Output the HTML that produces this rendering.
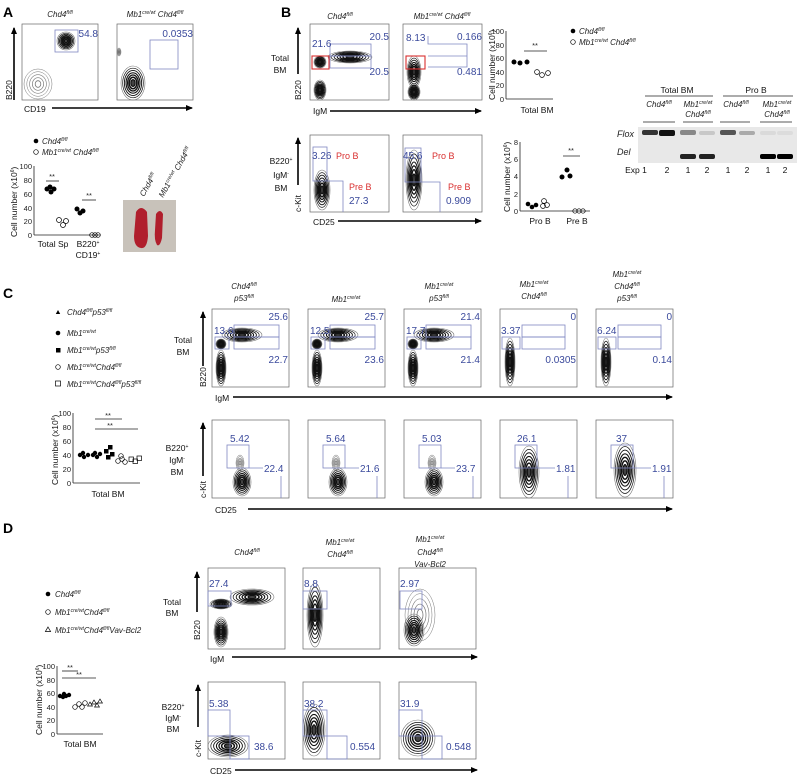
<!DOCTYPE html>
<html><head><meta charset="utf-8"><style>
html,body{margin:0;padding:0;background:#fff}
svg{display:block;font-family:"Liberation Sans",sans-serif}
.n{fill:#3b4a9c;font-size:10px}
.r{fill:#d93030;font-size:9px}
.l{font-size:8.5px;fill:#111}
.i{font-style:italic;font-size:8px;fill:#222}
.s{font-size:5px}
.g{fill:none;stroke:#7f87c2;stroke-width:0.8}
.f{fill:none;stroke:#666;stroke-width:0.7}
.ax{stroke:#000;stroke-width:1.6;fill:none}
.sa{stroke:#222;stroke-width:0.8;fill:none}
.t{font-size:7.5px;fill:#222}
.P{font-size:14px;font-weight:bold;fill:#000}
</style></head><body>
<svg width="800" height="776" viewBox="0 0 800 776" xmlns="http://www.w3.org/2000/svg">
<defs>
<marker id="ar" markerWidth="8" markerHeight="8" refX="6" refY="3" orient="auto" markerUnits="userSpaceOnUse"><path d="M0,0 L7,3 L0,6 Z" fill="#000"/></marker>
<g id="c" fill="none" stroke="#111">
<ellipse rx="1" ry="1" stroke="#777" stroke-width="0.6" vector-effect="non-scaling-stroke"/>
<ellipse rx="0.86" ry="0.87" stroke-width="0.7" vector-effect="non-scaling-stroke"/>
<ellipse rx="0.72" ry="0.74" stroke-width="0.9" vector-effect="non-scaling-stroke"/>
<ellipse rx="0.58" ry="0.6" stroke-width="1.1" vector-effect="non-scaling-stroke"/>
<ellipse rx="0.45" ry="0.47" stroke-width="1.3" vector-effect="non-scaling-stroke"/>
<ellipse rx="0.32" ry="0.34" stroke-width="1.5" vector-effect="non-scaling-stroke"/>
<ellipse rx="0.18" ry="0.2" stroke-width="1.2" vector-effect="non-scaling-stroke" fill="#444"/>
</g>
<g id="cl" fill="none" stroke="#777">
<ellipse rx="1" ry="1" stroke-width="0.5" vector-effect="non-scaling-stroke"/>
<ellipse rx="0.8" ry="0.82" stroke-width="0.5" vector-effect="non-scaling-stroke"/>
<ellipse rx="0.6" ry="0.62" stroke-width="0.6" vector-effect="non-scaling-stroke"/>
<ellipse rx="0.4" ry="0.42" stroke-width="0.7" vector-effect="non-scaling-stroke"/>
<ellipse rx="0.2" ry="0.22" stroke-width="0.8" vector-effect="non-scaling-stroke"/>
</g>
</defs>

<!-- ================= A ================= -->
<text x="3" y="17" class="P">A</text>
<text x="60" y="17" class="i" text-anchor="middle">Chd4<tspan class="s" dy="-3">fl/fl</tspan></text>
<text x="155" y="17" class="i" text-anchor="middle">Mb1<tspan class="s" dy="-3">cre/wt</tspan><tspan dy="3"> Chd4</tspan><tspan class="s" dy="-3">fl/fl</tspan></text>
<rect x="22" y="24" width="76" height="76" class="f"/>
<rect x="117" y="24" width="76" height="76" class="f"/>
<rect x="55" y="30" width="23" height="22" class="g"/>
<rect x="150" y="40" width="28" height="29" class="g"/>
<text x="98" y="37" class="n" text-anchor="end">54.8</text>
<text x="193" y="37" class="n" text-anchor="end">0.0353</text>
<use href="#c" transform="translate(66,41) scale(9,9)"/>
<use href="#cl" transform="translate(38,84) scale(14,15)"/>
<use href="#c" transform="translate(133,83) scale(12,17)"/>
<use href="#cl" transform="translate(119,52) scale(2,4)"/>
<line x1="14" y1="100" x2="14" y2="28" class="ax" marker-end="url(#ar)"/>
<text transform="translate(12,100) rotate(-90)" class="l">B220</text>
<text x="24" y="112" class="l">CD19</text>
<line x1="52" y1="108" x2="192" y2="108" class="ax" marker-end="url(#ar)"/>

<circle cx="36" cy="141" r="2.3" fill="#000"/>
<text x="42" y="144" class="i">Chd4<tspan class="s" dy="-3">fl/fl</tspan></text>
<circle cx="36" cy="152" r="2.3" fill="none" stroke="#000" stroke-width="0.7"/>
<text x="42" y="155" class="i">Mb1<tspan class="s" dy="-3">cre/wt</tspan><tspan dy="3"> Chd4</tspan><tspan class="s" dy="-3">fl/fl</tspan></text>
<text transform="translate(17,237) rotate(-90)" class="l">Cell number (x10<tspan class="s" dy="-3">6</tspan><tspan dy="3">)</tspan></text>
<line x1="34" y1="166" x2="34" y2="235" class="sa"/>
<line x1="34" y1="235" x2="100" y2="235" class="sa"/>
<g class="t" text-anchor="end">
<text x="32" y="169">100</text><text x="32" y="183">80</text><text x="32" y="197">60</text><text x="32" y="211">40</text><text x="32" y="224">20</text><text x="32" y="238">0</text></g>
<text x="53" y="247" class="l" text-anchor="middle">Total Sp</text>
<text x="88" y="247" class="l" text-anchor="middle">B220<tspan class="s" dy="-3">+</tspan></text>
<text x="88" y="258" class="l" text-anchor="middle">CD19<tspan class="s" dy="-3">+</tspan></text>
<g fill="#000"><circle cx="47" cy="189" r="2.5"/><circle cx="51" cy="192" r="2.5"/><circle cx="54" cy="189" r="2.5"/><circle cx="50" cy="187" r="2.5"/>
<circle cx="77" cy="209" r="2.5"/><circle cx="80" cy="213" r="2.5"/><circle cx="83" cy="211" r="2.5"/></g>
<g fill="none" stroke="#000" stroke-width="0.7"><circle cx="59" cy="220" r="2.5"/><circle cx="63" cy="225" r="2.5"/><circle cx="66" cy="221" r="2.5"/>
<circle cx="92" cy="235" r="2.3"/><circle cx="95" cy="235" r="2.3"/><circle cx="98" cy="235" r="2.3"/></g>
<line x1="46" y1="181" x2="59" y2="181" class="sa"/><text x="52" y="179" class="t" text-anchor="middle">**</text>
<line x1="82" y1="200" x2="96" y2="200" class="sa"/><text x="89" y="198" class="t" text-anchor="middle">**</text>
<rect x="123" y="200" width="53" height="52" fill="#c8c2ba"/>
<path d="M136,212 Q141,204 147,212 L148,236 Q147,249 141,248 Q134,247 134,236 Z" fill="#b01e2c"/>
<path d="M156,214 Q160,208 163,214 L162,238 Q160,247 157,245 Q154,240 155,230 Z" fill="#b01e2c"/>
<text transform="translate(144,197) rotate(-60)" class="i">Chd4<tspan class="s" dy="-3">fl/fl</tspan></text>
<text transform="translate(163,198) rotate(-60)" class="i">Mb1<tspan class="s" dy="-3">cre/wt</tspan><tspan dy="3"> Chd4</tspan><tspan class="s" dy="-3">fl/fl</tspan></text>

<!-- ================= B ================= -->
<text x="281" y="17" class="P">B</text>
<text x="340" y="19" class="i" text-anchor="middle">Chd4<tspan class="s" dy="-3">fl/fl</tspan></text>
<text x="442" y="19" class="i" text-anchor="middle">Mb1<tspan class="s" dy="-3">cre/wt</tspan><tspan dy="3"> Chd4</tspan><tspan class="s" dy="-3">fl/fl</tspan></text>
<text x="280" y="61" class="l" text-anchor="middle">Total</text>
<text x="280" y="73" class="l" text-anchor="middle">BM</text>
<line x1="298" y1="74" x2="298" y2="28" class="ax" marker-end="url(#ar)"/>
<text transform="translate(301,100) rotate(-90)" class="l">B220</text>
<rect x="310" y="24" width="79" height="76" class="f"/>
<rect x="403" y="24" width="79" height="76" class="f"/>
<use href="#c" transform="translate(350,57) scale(22,6)"/>
<use href="#c" transform="translate(320,62) scale(6,6)"/>
<use href="#c" transform="translate(320,90) scale(6,10)"/>
<use href="#c" transform="translate(414,72) scale(7,16)"/>
<use href="#c" transform="translate(414,92) scale(6,8)"/>
<rect x="330" y="44" width="41" height="12" class="g"/><rect x="330" y="56" width="41" height="12" class="g"/>
<rect x="312" y="56" width="17" height="13" fill="none" stroke="#d93030" stroke-width="1.1"/>
<text x="312" y="47" class="n">21.6</text>
<text x="389" y="40" class="n" text-anchor="end">20.5</text>
<text x="389" y="75" class="n" text-anchor="end">20.5</text>
<path d="M428,36 V44 H467 V67 H428" class="g"/><line x1="428" y1="56" x2="467" y2="56" class="g"/>
<rect x="406" y="56" width="19" height="13" fill="none" stroke="#d93030" stroke-width="1.1"/>
<text x="406" y="41" class="n">8.13</text>
<text x="482" y="40" class="n" text-anchor="end">0.166</text>
<text x="482" y="75" class="n" text-anchor="end">0.481</text>
<text x="313" y="114" class="l">IgM</text>
<line x1="330" y1="111" x2="481" y2="111" class="ax" marker-end="url(#ar)"/>

<text x="281" y="164" class="l" text-anchor="middle">B220<tspan class="s" dy="-3">+</tspan></text>
<text x="281" y="178" class="l" text-anchor="middle">IgM<tspan class="s" dy="-3">-</tspan></text>
<text x="281" y="191" class="l" text-anchor="middle">BM</text>
<line x1="298" y1="185" x2="298" y2="138" class="ax" marker-end="url(#ar)"/>
<text transform="translate(301,212) rotate(-90)" class="l">c-Kit</text>
<rect x="310" y="135" width="79" height="77" class="f"/>
<rect x="403" y="135" width="79" height="77" class="f"/>
<use href="#c" transform="translate(322,190) scale(8,20)"/>
<use href="#c" transform="translate(414,180) scale(8,30)"/>
<rect x="313" y="147" width="14" height="34" class="g"/>
<path d="M327,181 H343 V212" class="g"/>
<text x="312" y="159" class="n">3.26</text><text x="336" y="159" class="r">Pro B</text>
<text x="349" y="190" class="r">Pre B</text><text x="349" y="204" class="n">27.3</text>
<rect x="405" y="148" width="16" height="34" class="g"/>
<path d="M421,182 H440 V212" class="g"/>
<text x="403" y="159" class="n">45.6</text><text x="432" y="159" class="r">Pro B</text>
<text x="448" y="190" class="r">Pre B</text><text x="446" y="204" class="n">0.909</text>
<text x="313" y="225" class="l">CD25</text>
<line x1="338" y1="221" x2="481" y2="221" class="ax" marker-end="url(#ar)"/>

<!-- B scatter top -->
<text transform="translate(495,100) rotate(-90)" class="l">Cell number (x10<tspan class="s" dy="-3">6</tspan><tspan dy="3">)</tspan></text>
<line x1="506" y1="31" x2="506" y2="99" class="sa"/><line x1="506" y1="99" x2="553" y2="99" class="sa"/>
<g class="t" text-anchor="end"><text x="504" y="34">100</text><text x="504" y="48">80</text><text x="504" y="61">60</text><text x="504" y="75">40</text><text x="504" y="88">20</text><text x="504" y="102">0</text></g>
<g fill="#000"><circle cx="514" cy="62" r="2.5"/><circle cx="520" cy="63" r="2.5"/><circle cx="527" cy="62" r="2.5"/></g>
<g fill="none" stroke="#000" stroke-width="0.7"><circle cx="537" cy="72" r="2.4"/><circle cx="542" cy="75" r="2.4"/><circle cx="548" cy="73" r="2.4"/></g>
<line x1="524" y1="51" x2="547" y2="51" class="sa"/><text x="535" y="48" class="t" text-anchor="middle">**</text>
<text x="537" y="113" class="l" text-anchor="middle">Total BM</text>
<circle cx="573" cy="31" r="2.3" fill="#000"/><text x="579" y="34" class="i">Chd4<tspan class="s" dy="-3">fl/fl</tspan></text>
<circle cx="573" cy="42" r="2.3" fill="none" stroke="#000" stroke-width="0.7"/><text x="579" y="45" class="i">Mb1<tspan class="s" dy="-3">cre/wt</tspan><tspan dy="3"> Chd4</tspan><tspan class="s" dy="-3">fl/fl</tspan></text>
<!-- B scatter bottom -->
<text transform="translate(510,212) rotate(-90)" class="l">Cell number (x10<tspan class="s" dy="-3">6</tspan><tspan dy="3">)</tspan></text>
<line x1="520" y1="142" x2="520" y2="211" class="sa"/><line x1="520" y1="211" x2="590" y2="211" class="sa"/>
<g class="t" text-anchor="end"><text x="518" y="145">8</text><text x="518" y="162">6</text><text x="518" y="179">4</text><text x="518" y="197">2</text><text x="518" y="214">0</text></g>
<g fill="#000"><circle cx="528" cy="204" r="2.3"/><circle cx="532" cy="207" r="2.3"/><circle cx="536" cy="205" r="2.3"/>
<circle cx="562" cy="177" r="2.5"/><circle cx="567" cy="170" r="2.5"/><circle cx="570" cy="176" r="2.5"/></g>
<g fill="none" stroke="#000" stroke-width="0.7"><circle cx="544" cy="201" r="2.4"/><circle cx="547" cy="205" r="2.4"/><circle cx="543" cy="206" r="2.4"/>
<circle cx="575" cy="211" r="2.2"/><circle cx="579" cy="211" r="2.2"/><circle cx="583" cy="211" r="2.2"/></g>
<line x1="563" y1="156" x2="580" y2="156" class="sa"/><text x="571" y="153" class="t" text-anchor="middle">**</text>
<text x="540" y="224" class="l" text-anchor="middle">Pro B</text>
<text x="577" y="224" class="l" text-anchor="middle">Pre B</text>

<!-- Gel -->
<text x="677" y="93" class="l" text-anchor="middle">Total BM</text>
<line x1="645" y1="96" x2="713" y2="96" class="sa"/>
<text x="756" y="93" class="l" text-anchor="middle">Pro B</text>
<line x1="723" y1="96" x2="793" y2="96" class="sa"/>
<text x="659" y="107" class="i" text-anchor="middle">Chd4<tspan class="s" dy="-3">fl/fl</tspan></text>
<text x="698" y="107" class="i" text-anchor="middle">Mb1<tspan class="s" dy="-3">cre/wt</tspan></text>
<text x="698" y="117" class="i" text-anchor="middle">Chd4<tspan class="s" dy="-3">fl/fl</tspan></text>
<text x="736" y="107" class="i" text-anchor="middle">Chd4<tspan class="s" dy="-3">fl/fl</tspan></text>
<text x="777" y="107" class="i" text-anchor="middle">Mb1<tspan class="s" dy="-3">cre/wt</tspan></text>
<text x="777" y="117" class="i" text-anchor="middle">Chd4<tspan class="s" dy="-3">fl/fl</tspan></text>
<g class="sa"><line x1="643" y1="122" x2="675" y2="122"/><line x1="683" y1="122" x2="713" y2="122"/><line x1="720" y1="122" x2="750" y2="122"/><line x1="760" y1="122" x2="792" y2="122"/></g>
<rect x="638" y="127" width="159" height="36" fill="#e8e8e8"/>
<text x="617" y="137" class="i" style="font-size:9px">Flox</text>
<text x="617" y="155" class="i" style="font-size:9px">Del</text>
<g>
<rect x="642" y="130" width="16" height="5" rx="2" fill="#333"/>
<rect x="659" y="130" width="16" height="6" rx="2" fill="#111"/>
<rect x="680" y="130" width="16" height="5" rx="2" fill="#888"/>
<rect x="699" y="131" width="16" height="4" rx="2" fill="#c8c8c8"/>
<rect x="720" y="130" width="16" height="5" rx="2" fill="#555"/>
<rect x="739" y="131" width="16" height="4" rx="2" fill="#aaa"/>
<rect x="760" y="131" width="16" height="4" rx="2" fill="#dadada"/>
<rect x="777" y="131" width="16" height="4" rx="2" fill="#dcdcdc"/>
<rect x="680" y="154" width="16" height="5" rx="2" fill="#222"/>
<rect x="699" y="154" width="16" height="5" rx="2" fill="#222"/>
<rect x="760" y="154" width="16" height="5" rx="2" fill="#000"/>
<rect x="777" y="154" width="16" height="5" rx="2" fill="#000"/>
</g>
<g class="l" text-anchor="middle"><text x="636" y="173">Exp 1</text><text x="667" y="173">2</text><text x="688" y="173">1</text><text x="707" y="173">2</text><text x="728" y="173">1</text><text x="747" y="173">2</text><text x="768" y="173">1</text><text x="785" y="173">2</text></g>

<!-- ================= C ================= -->
<text x="3" y="298" class="P">C</text>
<path d="M58,310 l2.2,4 h-4.4 z" fill="#000"/><text x="67" y="315" class="i">Chd4<tspan class="s" dy="-3">fl/fl</tspan><tspan dy="3">p53</tspan><tspan class="s" dy="-3">fl/fl</tspan></text>
<circle cx="58" cy="333" r="2.3" fill="#000"/><text x="67" y="336" class="i">Mb1<tspan class="s" dy="-3">cre/wt</tspan></text>
<rect x="56" y="348" width="4.5" height="4.5" fill="#000"/><text x="67" y="353" class="i">Mb1<tspan class="s" dy="-3">cre/wt</tspan><tspan dy="3">p53</tspan><tspan class="s" dy="-3">fl/fl</tspan></text>
<circle cx="58" cy="367" r="2.3" fill="none" stroke="#000" stroke-width="0.7"/><text x="67" y="370" class="i">Mb1<tspan class="s" dy="-3">cre/wt</tspan><tspan dy="3">Chd4</tspan><tspan class="s" dy="-3">fl/fl</tspan></text>
<rect x="55.5" y="381" width="5" height="5" fill="none" stroke="#000" stroke-width="0.7"/><text x="67" y="387" class="i">Mb1<tspan class="s" dy="-3">cre/wt</tspan><tspan dy="3">Chd4</tspan><tspan class="s" dy="-3">fl/fl</tspan><tspan dy="3">p53</tspan><tspan class="s" dy="-3">fl/fl</tspan></text>
<text transform="translate(58,485) rotate(-90)" class="l">Cell number (x10<tspan class="s" dy="-3">6</tspan><tspan dy="3">)</tspan></text>
<line x1="73" y1="413" x2="73" y2="483" class="sa"/><line x1="73" y1="483" x2="140" y2="483" class="sa"/>
<g class="t" text-anchor="end"><text x="71" y="416">100</text><text x="71" y="430">80</text><text x="71" y="444">60</text><text x="71" y="458">40</text><text x="71" y="472">20</text><text x="71" y="486">0</text></g>
<g fill="#000"><circle cx="80" cy="455" r="2.2"/><circle cx="84" cy="457" r="2.2"/><circle cx="88" cy="455" r="2.2"/><circle cx="83" cy="453" r="2.2"/>
<circle cx="93" cy="455" r="2.2"/><circle cx="97" cy="457" r="2.2"/><circle cx="100" cy="454" r="2.2"/><circle cx="95" cy="453" r="2.2"/>
<rect x="104" y="449" width="4.5" height="4.5"/><rect x="108" y="445" width="4.5" height="4.5"/><rect x="110" y="452" width="4.5" height="4.5"/><rect x="106" y="455" width="4.5" height="4.5"/></g>
<g fill="none" stroke="#000" stroke-width="0.7"><circle cx="118" cy="461" r="2.3"/><circle cx="122" cy="459" r="2.3"/><circle cx="125" cy="462" r="2.3"/><circle cx="121" cy="456" r="2.3"/>
<rect x="129" y="457" width="4.5" height="4.5"/><rect x="133" y="459" width="4.5" height="4.5"/><rect x="137" y="456" width="4.5" height="4.5"/></g>
<line x1="95" y1="419" x2="122" y2="419" class="sa"/><text x="108" y="418" class="t" text-anchor="middle">**</text>
<line x1="95" y1="429" x2="138" y2="429" class="sa"/><text x="110" y="428" class="t" text-anchor="middle">**</text>
<text x="108" y="497" class="l" text-anchor="middle">Total BM</text>

<!-- C titles -->
<text x="244" y="289" class="i" text-anchor="middle">Chd4<tspan class="s" dy="-3">fl/fl</tspan></text>
<text x="244" y="301" class="i" text-anchor="middle">p53<tspan class="s" dy="-3">fl/fl</tspan></text>
<text x="346" y="302" class="i" text-anchor="middle">Mb1<tspan class="s" dy="-3">cre/wt</tspan></text>
<text x="439" y="289" class="i" text-anchor="middle">Mb1<tspan class="s" dy="-3">cre/wt</tspan></text>
<text x="439" y="301" class="i" text-anchor="middle">p53<tspan class="s" dy="-3">fl/fl</tspan></text>
<text x="534" y="287" class="i" text-anchor="middle">Mb1<tspan class="s" dy="-3">cre/wt</tspan></text>
<text x="534" y="299" class="i" text-anchor="middle">Chd4<tspan class="s" dy="-3">fl/fl</tspan></text>
<text x="627" y="277" class="i" text-anchor="middle">Mb1<tspan class="s" dy="-3">cre/wt</tspan></text>
<text x="627" y="289" class="i" text-anchor="middle">Chd4<tspan class="s" dy="-3">fl/fl</tspan></text>
<text x="627" y="301" class="i" text-anchor="middle">p53<tspan class="s" dy="-3">fl/fl</tspan></text>

<text x="183" y="343" class="l" text-anchor="middle">Total</text>
<text x="183" y="355" class="l" text-anchor="middle">BM</text>
<line x1="203" y1="366" x2="203" y2="312" class="ax" marker-end="url(#ar)"/>
<text transform="translate(206,387) rotate(-90)" class="l">B220</text>
<text x="215" y="401" class="l">IgM</text>
<line x1="233" y1="397" x2="672" y2="397" class="ax" marker-end="url(#ar)"/>
<text x="177" y="451" class="l" text-anchor="middle">B220<tspan class="s" dy="-3">+</tspan></text>
<text x="177" y="463" class="l" text-anchor="middle">IgM<tspan class="s" dy="-3">-</tspan></text>
<text x="177" y="475" class="l" text-anchor="middle">BM</text>
<line x1="203" y1="476" x2="203" y2="423" class="ax" marker-end="url(#ar)"/>
<text transform="translate(206,498) rotate(-90)" class="l">c-Kit</text>
<text x="215" y="513" class="l">CD25</text>
<line x1="248" y1="509" x2="672" y2="509" class="ax" marker-end="url(#ar)"/>

<!-- C top plots -->
<g>
<rect x="212" y="309" width="77" height="78" class="f"/><rect x="308" y="309" width="77" height="78" class="f"/><rect x="404" y="309" width="77" height="78" class="f"/><rect x="500" y="309" width="77" height="78" class="f"/><rect x="596" y="309" width="77" height="78" class="f"/>
<use href="#c" transform="translate(242,335) scale(20,7)"/><use href="#c" transform="translate(221,344) scale(5,5)"/><use href="#c" transform="translate(221,368) scale(5,18)"/>
<use href="#c" transform="translate(338,335) scale(20,7)"/><use href="#c" transform="translate(317,344) scale(5,5)"/><use href="#c" transform="translate(317,368) scale(5,18)"/>
<use href="#c" transform="translate(434,335) scale(20,7)"/><use href="#c" transform="translate(413,344) scale(5,5)"/><use href="#c" transform="translate(413,368) scale(5,18)"/>
<use href="#c" transform="translate(510,362) scale(5,24)"/><use href="#c" transform="translate(606,362) scale(5,24)"/>
<rect x="215" y="337" width="14" height="12" class="g"/><rect x="234" y="325" width="45" height="12" class="g"/><rect x="234" y="337" width="45" height="12" class="g"/>
<rect x="311" y="337" width="14" height="12" class="g"/><rect x="330" y="325" width="45" height="12" class="g"/><rect x="330" y="337" width="45" height="12" class="g"/>
<rect x="407" y="337" width="14" height="12" class="g"/><rect x="426" y="325" width="45" height="12" class="g"/><rect x="426" y="337" width="45" height="12" class="g"/>
<rect x="502" y="337" width="18" height="12" class="g"/><rect x="522" y="325" width="43" height="12" class="g"/><rect x="522" y="337" width="43" height="12" class="g"/>
<rect x="598" y="337" width="18" height="12" class="g"/><rect x="618" y="325" width="43" height="12" class="g"/><rect x="618" y="337" width="43" height="12" class="g"/>
<text x="214" y="334" class="n">13.6</text><text x="288" y="320" class="n" text-anchor="end">25.6</text><text x="288" y="363" class="n" text-anchor="end">22.7</text>
<text x="310" y="334" class="n">12.5</text><text x="384" y="320" class="n" text-anchor="end">25.7</text><text x="384" y="363" class="n" text-anchor="end">23.6</text>
<text x="406" y="334" class="n">17.7</text><text x="480" y="320" class="n" text-anchor="end">21.4</text><text x="480" y="363" class="n" text-anchor="end">21.4</text>
<text x="501" y="334" class="n">3.37</text><text x="576" y="320" class="n" text-anchor="end">0</text><text x="576" y="363" class="n" text-anchor="end">0.0305</text>
<text x="597" y="334" class="n">6.24</text><text x="672" y="320" class="n" text-anchor="end">0</text><text x="672" y="363" class="n" text-anchor="end">0.14</text>
</g>
<!-- C bottom plots -->
<g>
<rect x="212" y="420" width="77" height="78" class="f"/><rect x="308" y="420" width="77" height="78" class="f"/><rect x="404" y="420" width="77" height="78" class="f"/><rect x="500" y="420" width="77" height="78" class="f"/><rect x="596" y="420" width="77" height="78" class="f"/>
<use href="#c" transform="translate(242,482) scale(9,14)"/><use href="#cl" transform="translate(240,463) scale(4,8)"/>
<use href="#c" transform="translate(338,482) scale(9,14)"/><use href="#cl" transform="translate(336,463) scale(4,8)"/>
<use href="#c" transform="translate(434,482) scale(9,14)"/><use href="#cl" transform="translate(432,463) scale(4,8)"/>
<use href="#c" transform="translate(529,472) scale(10,26)"/><use href="#c" transform="translate(625,470) scale(11,27)"/>
<rect x="227" y="445" width="22" height="23" class="g"/><rect x="323" y="445" width="22" height="23" class="g"/><rect x="419" y="445" width="22" height="23" class="g"/><rect x="515" y="445" width="22" height="23" class="g"/><rect x="611" y="445" width="22" height="23" class="g"/>
<path d="M249,468 H263 M281,476 V498" class="g"/><path d="M345,468 H359 M377,476 V498" class="g"/><path d="M441,468 H455 M473,476 V498" class="g"/><path d="M537,468 H555 M568,476 V498" class="g"/><path d="M633,468 H651 M664,476 V498" class="g"/>
<text x="230" y="442" class="n">5.42</text><text x="264" y="472" class="n">22.4</text>
<text x="326" y="442" class="n">5.64</text><text x="360" y="472" class="n">21.6</text>
<text x="422" y="442" class="n">5.03</text><text x="456" y="472" class="n">23.7</text>
<text x="517" y="442" class="n">26.1</text><text x="556" y="472" class="n">1.81</text>
<text x="616" y="442" class="n">37</text><text x="652" y="472" class="n">1.91</text>
</g>

<!-- ================= D ================= -->
<text x="3" y="533" class="P">D</text>
<circle cx="48" cy="594" r="2.3" fill="#000"/><text x="55" y="597" class="i">Chd4<tspan class="s" dy="-3">fl/fl</tspan></text>
<circle cx="48" cy="612" r="2.3" fill="none" stroke="#000" stroke-width="0.7"/><text x="55" y="615" class="i">Mb1<tspan class="s" dy="-3">cre/wt</tspan><tspan dy="3">Chd4</tspan><tspan class="s" dy="-3">fl/fl</tspan></text>
<path d="M48,627 l2.6,4.5 h-5.2 z" fill="none" stroke="#000" stroke-width="0.7"/><text x="55" y="633" class="i">Mb1<tspan class="s" dy="-3">cre/wt</tspan><tspan dy="3">Chd4</tspan><tspan class="s" dy="-3">fl/fl</tspan><tspan dy="3">Vav-Bcl2</tspan></text>
<text transform="translate(42,735) rotate(-90)" class="l">Cell number (x10<tspan class="s" dy="-3">6</tspan><tspan dy="3">)</tspan></text>
<line x1="57" y1="666" x2="57" y2="734" class="sa"/><line x1="57" y1="734" x2="103" y2="734" class="sa"/>
<g class="t" text-anchor="end"><text x="55" y="669">100</text><text x="55" y="683">80</text><text x="55" y="696">60</text><text x="55" y="710">40</text><text x="55" y="723">20</text><text x="55" y="737">0</text></g>
<g fill="#000"><circle cx="60" cy="696" r="2.2"/><circle cx="63" cy="697" r="2.2"/><circle cx="66" cy="696" r="2.2"/><circle cx="69" cy="695" r="2.2"/><circle cx="64" cy="694" r="2.2"/></g>
<g fill="none" stroke="#000" stroke-width="0.7"><circle cx="75" cy="707" r="2.3"/><circle cx="79" cy="704" r="2.3"/><circle cx="82" cy="707" r="2.3"/><circle cx="85" cy="703" r="2.3"/>
<path d="M90,702 l2.4,4 h-4.8z M94,700 l2.4,4 h-4.8z M97,703 l2.4,4 h-4.8z M100,699 l2.4,4 h-4.8z"/></g>
<line x1="62" y1="671" x2="78" y2="671" class="sa"/><text x="70" y="670" class="t" text-anchor="middle">**</text>
<line x1="62" y1="678" x2="96" y2="678" class="sa"/><text x="79" y="677" class="t" text-anchor="middle">**</text>
<text x="80" y="747" class="l" text-anchor="middle">Total BM</text>

<text x="247" y="555" class="i" text-anchor="middle">Chd4<tspan class="s" dy="-3">fl/fl</tspan></text>
<text x="340" y="545" class="i" text-anchor="middle">Mb1<tspan class="s" dy="-3">cre/wt</tspan></text>
<text x="340" y="557" class="i" text-anchor="middle">Chd4<tspan class="s" dy="-3">fl/fl</tspan></text>
<text x="430" y="542" class="i" text-anchor="middle">Mb1<tspan class="s" dy="-3">cre/wt</tspan></text>
<text x="430" y="555" class="i" text-anchor="middle">Chd4<tspan class="s" dy="-3">fl/fl</tspan></text>
<text x="430" y="567" class="i" text-anchor="middle">Vav-Bcl2</text>

<text x="172" y="605" class="l" text-anchor="middle">Total</text>
<text x="172" y="616" class="l" text-anchor="middle">BM</text>
<line x1="197" y1="612" x2="197" y2="572" class="ax" marker-end="url(#ar)"/>
<text transform="translate(200,640) rotate(-90)" class="l">B220</text>
<text x="210" y="662" class="l">IgM</text>
<line x1="232" y1="657" x2="477" y2="657" class="ax" marker-end="url(#ar)"/>
<text x="173" y="710" class="l" text-anchor="middle">B220<tspan class="s" dy="-3">+</tspan></text>
<text x="173" y="721" class="l" text-anchor="middle">IgM<tspan class="s" dy="-3">-</tspan></text>
<text x="173" y="732" class="l" text-anchor="middle">BM</text>
<line x1="198" y1="727" x2="198" y2="685" class="ax" marker-end="url(#ar)"/>
<text transform="translate(201,757) rotate(-90)" class="l">c-Kit</text>
<text x="210" y="774" class="l">CD25</text>
<line x1="235" y1="770" x2="477" y2="770" class="ax" marker-end="url(#ar)"/>

<rect x="208" y="568" width="77" height="81" class="f"/><rect x="303" y="568" width="77" height="81" class="f"/><rect x="399" y="568" width="77" height="81" class="f"/>
<use href="#c" transform="translate(252,597) scale(22,8)"/><use href="#c" transform="translate(221,604) scale(11,5)"/><use href="#c" transform="translate(221,632) scale(7,15)"/>
<use href="#c" transform="translate(315,615) scale(8,32)"/>
<use href="#cl" transform="translate(420,615) scale(15,26)"/><use href="#c" transform="translate(414,630) scale(10,16)"/>
<rect x="208" y="591" width="23" height="15" class="g"/><rect x="303" y="591" width="24" height="18" class="g"/><rect x="400" y="591" width="22" height="18" class="g"/>
<text x="209" y="587" class="n">27.4</text><text x="304" y="587" class="n">8.8</text><text x="400" y="587" class="n">2.97</text>

<rect x="208" y="682" width="77" height="77" class="f"/><rect x="303" y="682" width="77" height="77" class="f"/><rect x="399" y="682" width="77" height="77" class="f"/>
<use href="#c" transform="translate(228,746) scale(20,11)"/>
<use href="#c" transform="translate(314,730) scale(11,26)"/>
<use href="#c" transform="translate(418,738) scale(17,18)"/>
<rect x="208" y="710" width="22" height="26" class="g"/><rect x="230" y="736" width="19" height="23" class="g"/>
<rect x="303" y="710" width="24" height="26" class="g"/><rect x="327" y="736" width="20" height="23" class="g"/>
<rect x="399" y="710" width="23" height="26" class="g"/><rect x="422" y="736" width="20" height="23" class="g"/>
<text x="209" y="707" class="n">5.38</text><text x="254" y="750" class="n">38.6</text>
<text x="304" y="707" class="n">38.2</text><text x="350" y="750" class="n">0.554</text>
<text x="400" y="707" class="n">31.9</text><text x="446" y="750" class="n">0.548</text>
</svg>
</body></html>
